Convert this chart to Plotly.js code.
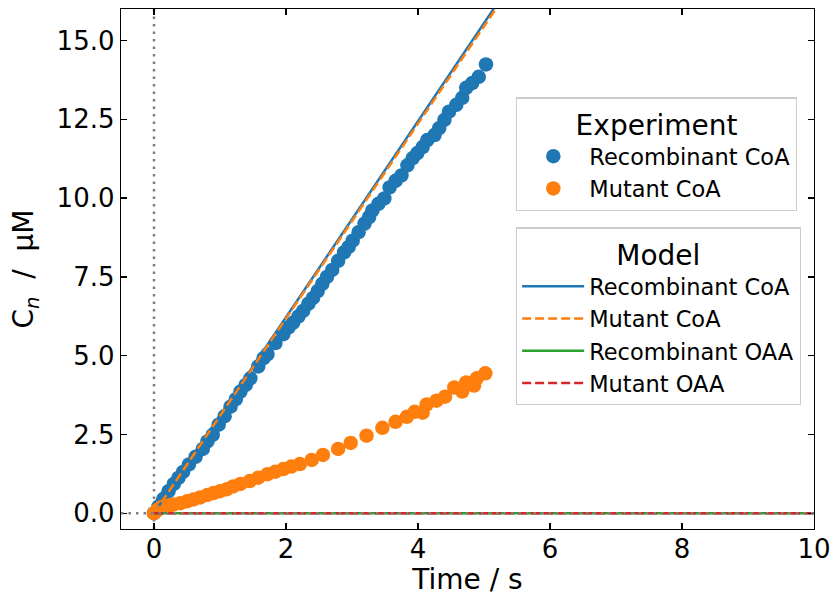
<!DOCTYPE html>
<html>
<head>
<meta charset="utf-8">
<script src="https://cdn.plot.ly/plotly-3.0.1.min.js"></script>
<style>html,body{margin:0;padding:0;background:#fff;}#chart{width:834px;height:596px;}</style>
</head>
<body>
<div id="chart"></div>
<script>
// Experiment: Recombinant CoA
const recT = [0,0.07,0.14,0.22,0.30,0.37,0.44,0.53,0.63,0.74,0.81,0.89,0.98,1.07,1.16,1.24,1.31,1.39,1.46,1.58,1.66,1.72,1.84,1.96,2.04,2.11,2.19,2.26,2.34,2.41,2.48,2.55,2.62,2.70,2.79,2.88,2.95,3.01,3.10,3.19,3.26,3.31,3.40,3.49,3.57,3.66,3.75,3.84,3.92,3.99,4.07,4.14,4.25,4.32,4.40,4.47,4.58,4.67,4.73,4.82,4.92,5.03];
const recC = [0,0.22,0.45,0.70,0.93,1.12,1.31,1.55,1.79,2.04,2.28,2.49,2.81,3.08,3.38,3.62,3.86,4.07,4.28,4.66,4.92,5.05,5.40,5.68,5.90,6.05,6.25,6.42,6.65,6.83,7.05,7.28,7.50,7.72,8.01,8.28,8.45,8.65,8.92,9.19,9.40,9.61,9.82,9.99,10.34,10.55,10.72,11.04,11.27,11.43,11.62,11.84,12.00,12.22,12.48,12.74,12.96,13.18,13.50,13.65,13.85,14.24];
// Experiment: Mutant CoA
const mutT = [0,0.05,0.10,0.15,0.20,0.25,0.30,0.40,0.50,0.60,0.70,0.81,0.90,1.00,1.10,1.20,1.31,1.45,1.58,1.72,1.84,1.96,2.08,2.21,2.39,2.56,2.79,2.98,3.22,3.46,3.66,3.83,3.95,4.07,4.13,4.28,4.41,4.55,4.67,4.73,4.85,4.89,5.02];
const mutC = [0,0.10,0.18,0.22,0.24,0.26,0.28,0.32,0.38,0.44,0.50,0.58,0.64,0.70,0.76,0.85,0.93,1.02,1.13,1.24,1.32,1.40,1.48,1.56,1.69,1.85,2.04,2.23,2.46,2.71,2.90,3.06,3.22,3.19,3.45,3.57,3.70,3.99,3.86,4.15,4.05,4.28,4.44];
// Model curves
const modelT = [0, 10];
const modelRecCoA = [0, 31.1];
const modelMutCoA = [0, 30.9];
const modelRecOAA = [0, 0];
const modelMutOAA = [0, 0];
// Axis ticks
const xTicks = [0, 2, 4, 6, 8, 10];
const yTicks = [0, 2.5, 5, 7.5, 10, 12.5, 15];
const yTickText = ["0.0", "2.5", "5.0", "7.5", "10.0", "12.5", "15.0"];

const BLUE = '#1f77b4', ORANGE = '#ff7f0e', GREEN = '#2ca02c', RED = '#d62728';
const FONT = 'DejaVu Sans, sans-serif';
const DASH = '9px,4px';

const traces = [
  {x: recT, y: recC, mode: 'markers', name: 'Recombinant CoA', legend: 'legend',
   marker: {color: BLUE, size: 14.5}},
  {x: mutT, y: mutC, mode: 'markers', name: 'Mutant CoA', legend: 'legend',
   marker: {color: ORANGE, size: 14.5}},
  {x: modelT, y: modelRecCoA, mode: 'lines', name: 'Recombinant CoA', legend: 'legend2',
   line: {color: BLUE, width: 2.5}},
  {x: modelT, y: modelMutCoA, mode: 'lines', name: 'Mutant CoA', legend: 'legend2',
   line: {color: ORANGE, width: 2.5, dash: DASH}},
  {x: modelT, y: modelRecOAA, mode: 'lines', name: 'Recombinant OAA', legend: 'legend2',
   line: {color: GREEN, width: 2.5}},
  {x: modelT, y: modelMutOAA, mode: 'lines', name: 'Mutant OAA', legend: 'legend2',
   line: {color: RED, width: 2.5, dash: DASH}}
];

const axisCommon = {
  showline: true, linecolor: '#000', linewidth: 1.3, mirror: 'ticks',
  ticks: 'inside', ticklen: 6, tickwidth: 1.3, tickcolor: '#000',
  showgrid: false, zeroline: false,
  tickfont: {family: FONT, size: 26, color: '#000'}
};

const legendCommon = {
  xanchor: 'right', yanchor: 'top', bgcolor: 'rgba(255,255,255,0.8)',
  bordercolor: '#cccccc', borderwidth: 1.3,
  font: {family: FONT, size: 22.5, color: '#000'},
  itemwidth: 62, tracegroupgap: 0
};

const layout = {
  width: 834, height: 596,
  margin: {l: 121, r: 20, t: 9, b: 67},
  paper_bgcolor: '#fff', plot_bgcolor: '#fff',
  font: {family: FONT, color: '#000'},
  xaxis: Object.assign({}, axisCommon, {
    range: [-0.5, 10], tickvals: xTicks, ticktext: xTicks.map(String),
    ticklabelstandoff: -4,
    title: {text: 'Time / s', font: {family: FONT, size: 28, color: '#000'}, standoff: 12}
  }),
  yaxis: Object.assign({}, axisCommon, {
    range: [-0.5, 16], tickvals: yTicks, ticktext: yTickText,
    title: {text: 'C<sub><i>n</i></sub>\u00a0\u00a0/\u00a0\u00a0μM', font: {family: FONT, size: 28, color: '#000'}, standoff: 14}
  }),
  legend: Object.assign({}, legendCommon, {
    x: 0.9755, y: 0.83,
    title: {text: 'Experiment', side: 'top center', font: {family: FONT, size: 28, color: '#000'}}
  }),
  legend2: Object.assign({}, legendCommon, {
    x: 0.981, y: 0.58,
    title: {text: 'Model', side: 'top center', font: {family: FONT, size: 28, color: '#000'}}
  }),
  shapes: [
    {type: 'line', xref: 'x', yref: 'paper', x0: 0, x1: 0, y0: 0, y1: 1, layer: 'below',
     line: {color: 'gray', width: 2.5, dash: '2.5px,5px'}},
    {type: 'line', xref: 'paper', yref: 'y', x0: 0, x1: 1, y0: 0, y1: 0, layer: 'above',
     line: {color: 'gray', width: 2.5, dash: '2.5px,5px'}}
  ],
  showlegend: true
};

Plotly.newPlot('chart', traces, layout, {displayModeBar: false, staticPlot: true});
</script>
</body>
</html>
